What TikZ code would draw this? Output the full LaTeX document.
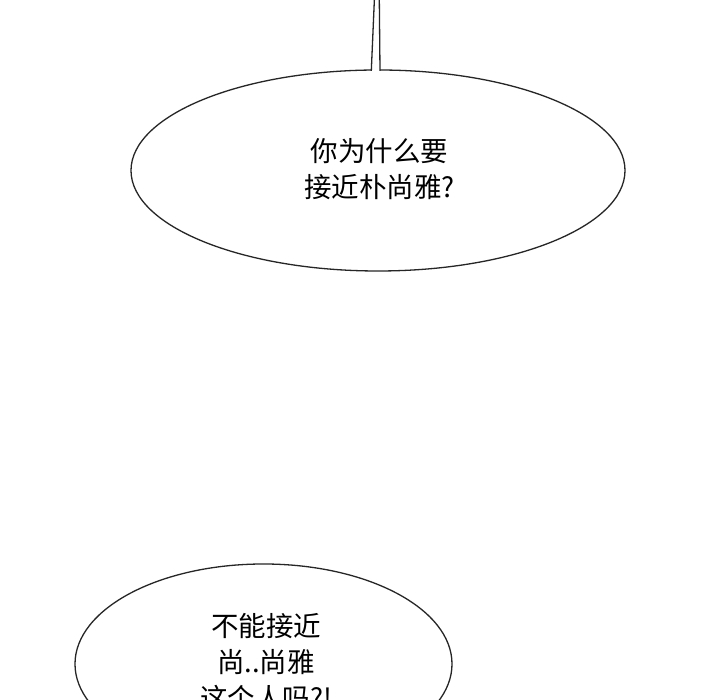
\documentclass[tikz,border=0pt]{standalone}
\usepackage{fontspec}
\newfontfamily\cjk{Noto Sans CJK SC}
\usetikzlibrary{shapes.geometric}
\tikzset{
  bubble/.style={draw=black!85, line width=1.3pt, fill=white},
  speech/.style={font=\cjk\fontsize{27.5}{36}\selectfont, align=center, text=black, inner sep=0pt},
}
\begin{document}
\begin{tikzpicture}[x=1pt,y=1pt]
\useasboundingbox[fill=white] (0,0) rectangle (720,700);
\begin{scope}
\clip (0,0) rectangle (720,700);
% top bubble
\draw[bubble] (378,529.5) ellipse [x radius=247, y radius=100.5];
\fill[white] (371.6,628) -- (374.6,700) -- (379.3,700) -- (380,628) -- cycle;
\coordinate (tl0) at (371.3,629.2);
\coordinate (tl1) at (374.4,701);
\coordinate (tr0) at (380,629.2);
\coordinate (tr1) at (379.3,701);
\draw[black!85, line width=1.3pt] (tl0) -- (tl1);
\draw[black!85, line width=1.3pt] (tr0) -- (tr1);
\node[speech] (q1) at (379.5,531) {你为什么要\\接近朴尚雅?};
% bottom bubble
\draw[bubble] (263.5,36) ellipse [x radius=188.5, y radius=100];
\node[speech, anchor=north] (q2) at (266,87) {不能接近\\尚..尚雅\\这个人吗?!};
\end{scope}
\end{tikzpicture}
\end{document}
